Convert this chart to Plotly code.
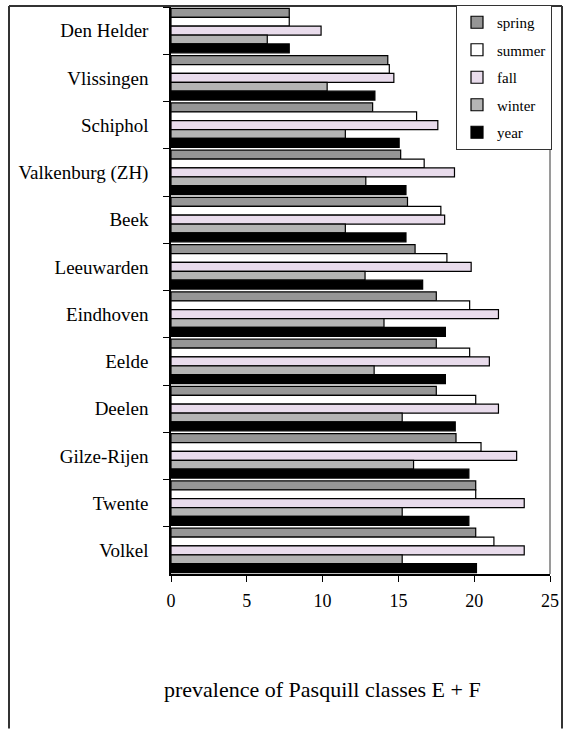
import plotly.graph_objects as go

stations = ["Den Helder", "Vlissingen", "Schiphol", "Valkenburg (ZH)", "Beek", "Leeuwarden",
            "Eindhoven", "Eelde", "Deelen", "Gilze-Rijen", "Twente", "Volkel"]
spring = [7.8, 14.3, 13.3, 15.15, 15.6, 16.1, 17.5, 17.5, 17.5, 18.8, 20.1, 20.1]
summer = [7.8, 14.4, 16.2, 16.7, 17.8, 18.2, 19.7, 19.7, 20.1, 20.45, 20.1, 21.3]
fall = [9.9, 14.7, 17.6, 18.7, 18.05, 19.8, 21.6, 21.0, 21.6, 22.8, 23.3, 23.3]
winter = [6.35, 10.3, 11.5, 12.85, 11.5, 12.8, 14.05, 13.4, 15.25, 16.0, 15.25, 15.25]
year = [7.8, 13.45, 15.05, 15.5, 15.5, 16.6, 18.1, 18.1, 18.75, 19.65, 19.65, 20.15]

series = [("spring", spring, "#969696"), ("summer", summer, "#ffffff"),
          ("fall", fall, "#e9dcec"), ("winter", winter, "#b4b4b4"), ("year", year, "#000000")]

FONT = "Liberation Serif, Times New Roman, serif"

fig = go.Figure()
for name, vals, col in series:
    fig.add_trace(go.Bar(
        y=stations, x=vals, name=name, orientation="h", legendgroup=name,
        marker=dict(color=col, line=dict(color="#000000", width=1.2)),
    ))

# plot area in pixels: x 171..550, y 5..574
W, H = 564, 729
L, R, T, B = 171, 14, 5, 155
pw, ph = W - L - R, H - T - B

def px(x):
    return (x - L) / pw

def py(y):
    return (H - B - y) / ph

frame = dict(color="#333333", width=2)
shapes = [
    dict(type="line", xref="paper", yref="paper", x0=px(9), x1=px(9), y0=py(4), y1=py(729), line=frame),
    dict(type="line", xref="paper", yref="paper", x0=px(9), x1=px(562), y0=py(4), y1=py(4), line=frame),
    dict(type="line", xref="paper", yref="paper", x0=px(562), x1=px(562), y0=py(4), y1=py(729), line=frame),
    dict(type="line", xref="paper", yref="paper", x0=1, x1=1, y0=0, y1=1,
         line=dict(color="#9a9a9a", width=2), layer="below"),
]

fig.update_layout(
    width=W, height=H,
    margin=dict(l=L, r=R, t=T, b=B),
    paper_bgcolor="white", plot_bgcolor="white",
    barmode="group", bargap=0.06, bargroupgap=0,
    font=dict(family=FONT, color="#000000"),
    shapes=shapes,
    showlegend=True,
    legend=dict(
        x=px(456), y=py(3), xanchor="left", yanchor="top",
        bgcolor="white", bordercolor="#333333", borderwidth=1,
        font=dict(family=FONT, size=15), traceorder="grouped", tracegroupgap=5,
        itemwidth=30,
    ),
    annotations=[dict(
        text="prevalence of Pasquill classes E + F", xref="paper", yref="paper",
        x=px(322), y=py(690), xanchor="center", yanchor="middle",
        showarrow=False, font=dict(family=FONT, size=22),
    )],
)

fig.update_xaxes(
    range=[0, 25], dtick=5, showgrid=False, zeroline=False,
    showline=True, linecolor="#000000", linewidth=1.5,
    ticks="outside", ticklen=6, tickcolor="#000000",
    tickfont=dict(family=FONT, size=18), ticklabelstandoff=4,
)
fig.update_yaxes(
    autorange="reversed", showgrid=False, zeroline=False,
    showline=True, linecolor="#000000", linewidth=1.5,
    ticks="outside", ticklen=6, tickcolor="#000000", tickson="boundaries",
    tickfont=dict(family=FONT, size=19), ticklabelstandoff=17,
)

# page body has a default 8px margin; drop it so the figure fills the window
fig.write_html("out.html", config={"displayModeBar": False},
               post_script="document.body.style.margin='0';")
